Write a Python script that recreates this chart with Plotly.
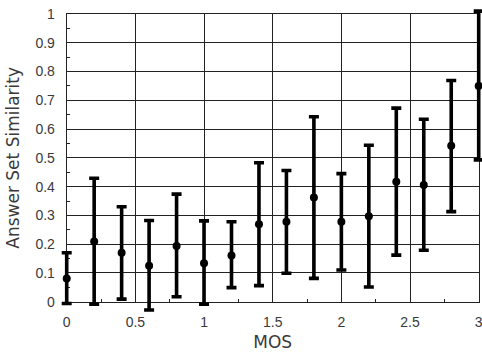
import plotly.graph_objects as go

mos = [0.0, 0.2, 0.4, 0.6, 0.8, 1.0, 1.2, 1.4, 1.6, 1.8, 2.0, 2.2, 2.4, 2.6, 2.8, 3.0]
mean = [0.081, 0.209, 0.170, 0.125, 0.194, 0.134, 0.161, 0.269, 0.278, 0.362, 0.278, 0.297, 0.417, 0.406, 0.542, 0.750]
upper = [0.170, 0.429, 0.330, 0.282, 0.374, 0.281, 0.278, 0.483, 0.456, 0.643, 0.445, 0.544, 0.673, 0.634, 0.769, 1.010]
lower = [-0.006, -0.009, 0.009, -0.029, 0.017, -0.009, 0.049, 0.056, 0.099, 0.081, 0.110, 0.051, 0.162, 0.179, 0.313, 0.493]

x_tickvals = [0, 0.5, 1, 1.5, 2, 2.5, 3]
x_ticktext = ["0", "0.5", "1", "1.5", "2", "2.5", "3"]
y_tickvals = [i / 10 for i in range(11)]
y_ticktext = ["0", "0.1", "0.2", "0.3", "0.4", "0.5", "0.6", "0.7", "0.8", "0.9", "1"]

err_plus = [u - m for u, m in zip(upper, mean)]
err_minus = [m - l for m, l in zip(mean, lower)]

# layout geometry (pixels)
W, H = 482, 356
PX0, PX1 = 66.7, 478.7    # pixel of x=0 and x=3
PY1, PY0 = 14.0, 301.7    # pixel of y=1 and y=0
XMIN, XMAX = 0.0, 3.0
YMIN, YMAX = 0.0, 1.0

xs = (XMAX - XMIN) / (PX1 - PX0)
ys = (YMAX - YMIN) / (PY0 - PY1)
x2_range = [XMIN - PX0 * xs, XMAX + (W - PX1) * xs]
y2_range = [YMIN - (H - PY0) * ys, YMAX + PY1 * ys]

fig = go.Figure()
# invisible trace to establish main subplot
fig.add_trace(go.Scatter(x=[XMIN], y=[YMIN], mode="markers", marker=dict(opacity=0),
                         hoverinfo="skip", showlegend=False, xaxis="x", yaxis="y"))
fig.add_trace(go.Scatter(
    x=mos, y=mean, mode="markers",
    marker=dict(color="black", size=8),
    error_y=dict(type="data", symmetric=False, array=err_plus, arrayminus=err_minus,
                 color="black", thickness=3.6, width=5),
    cliponaxis=False, showlegend=False, xaxis="x2", yaxis="y2",
))

tfont = dict(family="Liberation Sans, Arial, sans-serif", size=14, color="#3a3a3a")
afont = dict(family="DejaVu Sans, sans-serif", size=17, color="#3a3a3a")
gcol = "#222222"

fig.update_layout(
    width=W, height=H,
    margin=dict(l=0, r=0, t=0, b=0),
    paper_bgcolor="white", plot_bgcolor="rgba(0,0,0,0)",
    font=tfont,
    xaxis=dict(
        domain=[PX0 / W, PX1 / W], range=[XMIN, XMAX], anchor="y",
        tickvals=x_tickvals, ticktext=x_ticktext, tickfont=tfont,
        ticklabeloverflow="allow",
        showgrid=True, gridcolor=gcol, gridwidth=1,
        showline=True, linecolor=gcol, linewidth=1, mirror=True,
        zeroline=False, ticks="outside", ticklen=7, tickcolor="rgba(0,0,0,0)",
        minor=dict(tickvals=[0.25, 0.75, 1.25, 1.75, 2.25, 2.75], ticks="inside", ticklen=3,
                   tickcolor=gcol, showgrid=False),
        title=dict(text="MOS", font=afont, standoff=7),
        automargin=False,
    ),
    yaxis=dict(
        domain=[1 - PY0 / H, 1 - PY1 / H], range=[YMIN, YMAX], anchor="x",
        tickvals=y_tickvals, ticktext=y_ticktext, tickfont=tfont,
        showgrid=True, gridcolor=gcol, gridwidth=1,
        showline=True, linecolor=gcol, linewidth=1, mirror=True,
        zeroline=False, ticks="outside", ticklen=8, tickcolor="rgba(0,0,0,0)",
        minor=dict(tickvals=[0.05 + i / 10 for i in range(10)], ticks="inside", ticklen=3,
                   tickcolor=gcol, showgrid=False),
        title=dict(text="Answer Set Similarity", font=afont, standoff=11),
        automargin=False,
    ),
    xaxis2=dict(domain=[0, 1], range=x2_range, anchor="y2", visible=False,
                showgrid=False, zeroline=False),
    yaxis2=dict(domain=[0, 1], range=y2_range, anchor="x2", visible=False,
                showgrid=False, zeroline=False),
)

fig.write_html("out.html")
